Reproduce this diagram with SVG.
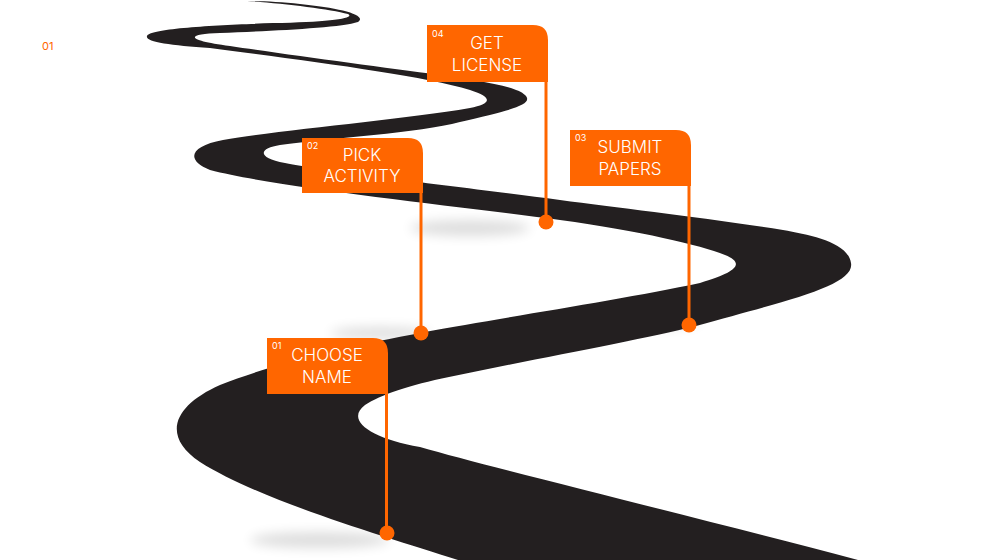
<svg xmlns="http://www.w3.org/2000/svg" width="1000" height="560" viewBox="0 0 1000 560">
<style>
.flag{fill:#ff6600}
.pole{stroke:#ff6600;stroke-width:3}
.dot{fill:#ff6600}
.t{font-family:Inter,"Liberation Sans",sans-serif;font-size:17px;fill:#fff;text-anchor:middle;font-weight:300}
.n{font-family:Inter,"Liberation Sans",sans-serif;font-size:9px;fill:#fff}
.sh{fill:#000;opacity:0.13;filter:url(#b)}
</style>
<defs><filter id="b" x="-50%" y="-100%" width="200%" height="300%"><feGaussianBlur stdDeviation="6"/></filter></defs>
<rect width="1000" height="560" fill="#fff"/>
<text x="42" y="50" font-family="Inter,'Liberation Sans',sans-serif" font-size="11" fill="#ff6600">01</text>
<g id="shadows">
<ellipse class="sh" cx="470" cy="228" rx="60" ry="8"/>
<ellipse class="sh" cx="320" cy="540" rx="70" ry="8"/>
<ellipse class="sh" cx="380" cy="333" rx="50" ry="6"/>
<ellipse class="sh" cx="640" cy="322" rx="60" ry="6"/>
</g>
<path id="road" fill="#231f20" d="M858,560 C700,518 500,470 420,447 C370,438 345,420 365,405 C380,395 410,385 449,377 C540,358 640,340 696,326 C790,300 855,285 851,263 C848,242 810,235 783,230 C700,217 620,208 560,200 C470,188 330,172 285,163 C255,157 260,148 280,145 C330,138 420,133 460,122 C510,110 535,105 525,95 C515,85 470,80 440,75 C380,67 290,55 230,46 C185,40 185,34 220,33 C270,31 340,28 358,22 C368,15 340,8 300,4 C280,2 260,1 247,1 C280,3 330,9 348,14 C356,18 330,22 273,23 C220,25 150,28 147,36 C145,42 170,45 210,48 C300,60 420,75 470,90 C495,98 490,104 470,108 C400,120 280,130 223,140 C190,146 185,160 210,170 C280,188 450,205 560,220 C640,231 700,245 725,255 C745,263 738,272 700,283 C620,300 500,318 425,332 C340,348 270,365 220,385 C175,405 160,435 200,462 C260,500 380,535 458,560 Z"/>
<g id="connectors">
<line class="pole" x1="386.5" y1="394" x2="386.5" y2="533"/>
<line class="pole" x1="421" y1="193" x2="421" y2="333"/>
<line class="pole" x1="689" y1="186" x2="689" y2="325"/>
<line class="pole" x1="546" y1="82" x2="546" y2="222"/>
</g>
<g id="flag01">
<path class="flag" d="M267,338 H373 Q388,338 388,353 V394 H267 Z"/>
<circle class="dot" cx="387" cy="533" r="7.5"/>
<text class="n" x="272" y="349">01</text>
<text class="t" x="327" y="361">CHOOSE</text>
<text class="t" x="327" y="383">NAME</text>
</g>
<g id="flag02">
<path class="flag" d="M302,138 H408 Q423,138 423,153 V193 H302 Z"/>
<circle class="dot" cx="421" cy="333" r="7.5"/>
<text class="n" x="307" y="149">02</text>
<text class="t" x="362" y="161">PICK</text>
<text class="t" x="362" y="182">ACTIVITY</text>
</g>
<g id="flag03">
<path class="flag" d="M570,130 H676 Q691,130 691,145 V186 H570 Z"/>
<circle class="dot" cx="689" cy="325" r="7.5"/>
<text class="n" x="575" y="141">03</text>
<text class="t" x="630" y="153">SUBMIT</text>
<text class="t" x="630" y="175">PAPERS</text>
</g>
<g id="flag04">
<path class="flag" d="M427,25 H533 Q548,25 548,40 V82 H427 Z"/>
<circle class="dot" cx="546" cy="222" r="7.5"/>
<text class="n" x="432" y="37">04</text>
<text class="t" x="487" y="49">GET</text>
<text class="t" x="487" y="71">LICENSE</text>
</g>
</svg>
